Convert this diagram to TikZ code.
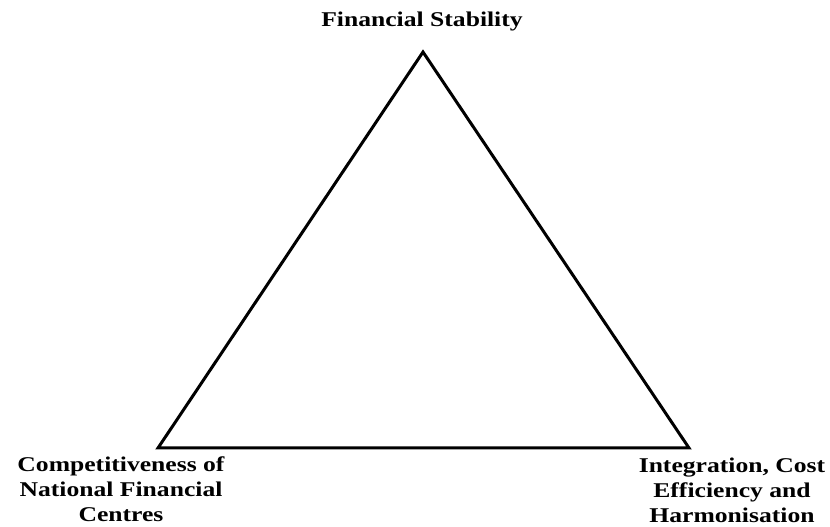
\documentclass[tikz,border=0pt]{standalone}
\usepackage{fontspec}
\setmainfont{Liberation Serif}[FakeStretch=1.22]
\begin{document}
\begin{tikzpicture}[x=1pt,y=1pt,
  lbl/.style={font=\fontsize{21}{25}\selectfont\bfseries, align=center, inner sep=0pt},
  edge/.style={line width=3pt, line join=miter}]
\useasboundingbox (0,0) rectangle (830,527);
\coordinate (T) at (423,475);
\coordinate (L) at (158,79);
\coordinate (R) at (689,79);
\draw[edge] (T) -- (L) -- (R) -- cycle;
\node[lbl, anchor=base] (top) at (422,500) {Financial Stability};
\node[lbl, anchor=north] (left) at (121,70) {Competitiveness of\\National Financial\\Centres};
\node[lbl, anchor=north] (right) at (732,69) {Integration, Cost\\Efficiency and\\Harmonisation};
\end{tikzpicture}
\end{document}
